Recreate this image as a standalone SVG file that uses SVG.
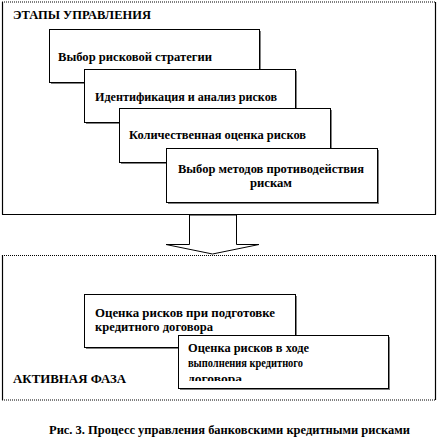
<svg xmlns="http://www.w3.org/2000/svg" width="438" height="443" viewBox="0 0 438 443">
<style>
text{font-family:"Liberation Serif","Times New Roman",serif;font-weight:bold;font-size:11.5px;fill:#000}
.box{fill:#fff;stroke:#000;stroke-width:1}
.sh{fill:#808080}
.solid{stroke:#000;stroke-width:1.2;fill:none}
.dot{stroke:#000;stroke-width:1.2;stroke-dasharray:1 1;fill:none}
</style>
<defs>
<clipPath id="clipB"><rect x="178" y="335" width="210" height="46"/></clipPath>
</defs>
<g id="stages">
<line class="dot" x1="2" y1="2" x2="436" y2="2"/>
<line class="solid" x1="2.5" y1="2" x2="2.5" y2="214.5"/>
<line class="solid" x1="435.5" y1="2" x2="435.5" y2="214.5"/>
<line class="solid" x1="2" y1="214.5" x2="436" y2="214.5"/>
<text x="13" y="19" textLength="138" lengthAdjust="spacingAndGlyphs">ЭТАПЫ УПРАВЛЕНИЯ</text>
</g>
<g id="s1">
<rect class="sh" x="51" y="31" width="210" height="53"/>
<rect class="box" x="49.5" y="29.5" width="210" height="53"/>
<text x="58" y="61" textLength="154" lengthAdjust="spacingAndGlyphs">Выбор рисковой стратегии</text>
</g>
<g id="s2">
<rect class="sh" x="86" y="71" width="211" height="53"/>
<rect class="box" x="84.5" y="69.5" width="211" height="53"/>
<text x="95" y="101" textLength="182" lengthAdjust="spacingAndGlyphs">Идентификация  и анализ рисков</text>
</g>
<g id="s3">
<rect class="sh" x="121" y="110" width="211" height="54"/>
<rect class="box" x="119.5" y="108.5" width="211" height="54"/>
<text x="129" y="139" textLength="177" lengthAdjust="spacingAndGlyphs">Количественная  оценка рисков</text>
</g>
<g id="s4">
<rect class="sh" x="168" y="150" width="211" height="54"/>
<rect class="box" x="166.5" y="148.5" width="211" height="54"/>
<text x="178" y="173" textLength="186" lengthAdjust="spacingAndGlyphs">Выбор методов противодействия</text>
<text x="250" y="187" textLength="42" lengthAdjust="spacingAndGlyphs">рискам</text>
</g>
<g id="connectors">
<polygon points="189.5,215 189.5,244.5 166,244.5 212.5,254 259,244.5 236.5,244.5 236.5,215" fill="#fff" stroke="#000" stroke-width="1"/>
</g>
<g id="active">
<line class="dot" x1="2" y1="255.5" x2="436" y2="255.5"/>
<line class="solid" x1="2.5" y1="255" x2="2.5" y2="400"/>
<line class="solid" x1="435.5" y1="255" x2="435.5" y2="400"/>
<line class="dot" x1="2" y1="400" x2="436" y2="400"/>
<text x="13" y="383" textLength="113" lengthAdjust="spacingAndGlyphs">АКТИВНАЯ  ФАЗА</text>
</g>
<g id="a1">
<rect class="sh" x="86" y="296" width="211" height="53"/>
<rect class="box" x="84.5" y="294.5" width="211" height="53"/>
<text x="95" y="317" textLength="180" lengthAdjust="spacingAndGlyphs">Оценка  рисков при подготовке</text>
<text x="95" y="331" textLength="118" lengthAdjust="spacingAndGlyphs">кредитного  договора</text>
</g>
<g id="a2">
<rect class="sh" x="180" y="337" width="210" height="53"/>
<rect class="box" x="178.5" y="335.5" width="210" height="53"/>
<text x="188" y="352" textLength="121" lengthAdjust="spacingAndGlyphs">Оценка  рисков в ходе</text>
<text x="188" y="367" textLength="115" lengthAdjust="spacingAndGlyphs">выполнения кредитного</text>
<text x="188" y="383" textLength="54" lengthAdjust="spacingAndGlyphs" clip-path="url(#clipB)">договора</text>
</g>
<text x="49" y="434" font-size="11" textLength="361" lengthAdjust="spacingAndGlyphs">Рис.  3. Процесс управления банковскими кредитными рисками</text>
</svg>
